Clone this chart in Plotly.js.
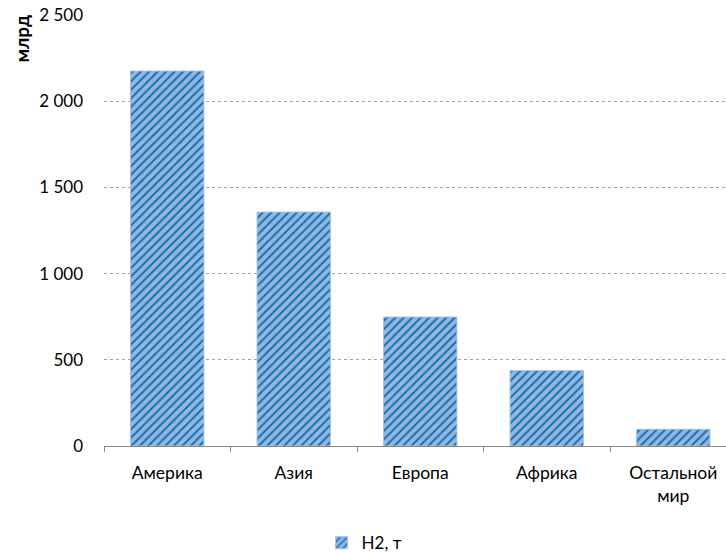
<!DOCTYPE html>
<html>
<head>
<meta charset="utf-8">
<script src="https://cdn.plot.ly/plotly-3.0.1.min.js"></script>
<style>html,body{margin:0;padding:0;background:#fff;}</style>
</head>
<body>
<div id="chart" style="width:726px;height:552px;"></div>
<script>
const categories = ["Америка", "Азия", "Европа", "Африка", "Остальной<br>мир"];
const values = [2175, 1357, 748, 437, 97];
const seriesName = "H2, т";
const yTitle = "млрд";

const FONT = "Lato, 'Open Sans', sans-serif";

const trace = {
  type: "bar",
  x: categories,
  y: values,
  name: seriesName,
  width: 0.58,
  showlegend: true,
  marker: {
    color: "#95b3d7",
    line: {color: "#a9c1de", width: 1},
    pattern: {shape: "/", fgcolor: "#0a72c0", bgcolor: "#98b6d9", size: 6, solidity: 0.32, fillmode: "replace"}
  },
  hoverinfo: "x+y"
};

const layout = {
  width: 726,
  height: 552,
  margin: {l: 104, r: 0, t: 15, b: 106},
  paper_bgcolor: "#ffffff",
  plot_bgcolor: "#ffffff",
  separators: ", ",
  font: {family: FONT, size: 17, color: "#000000"},
  bargap: 0.42,
  xaxis: {
    type: "category",
    range: [-0.5, 4.417],
    showline: true,
    linecolor: "#868686",
    linewidth: 1,
    ticks: "outside",
    tickson: "boundaries",
    ticklen: 5,
    tickcolor: "#868686",
    showgrid: false,
    ticklabelstandoff: 11,
    tickfont: {family: FONT, size: 17.5, color: "#000"},
    fixedrange: true
  },
  yaxis: {
    range: [0, 2500],
    tickvals: [0, 500, 1000, 1500, 2000, 2500],
    separatethousands: true,
    showgrid: true,
    gridcolor: "#a6a6a6",
    griddash: "3px,3px",
    gridwidth: 1,
    zeroline: false,
    showline: false,
    ticks: "",
    ticklabelstandoff: 20,
    tickfont: {family: FONT, size: 17, color: "#000"},
    fixedrange: true
  },
  legend: {
    orientation: "h",
    x: 0.443,
    xanchor: "left",
    xref: "container",
    yref: "container",
    y: 0.016,
    yanchor: "middle",
    font: {family: FONT, size: 17, color: "#000"},
    bgcolor: "rgba(0,0,0,0)"
  },
  annotations: [{
    text: "<b>" + yTitle + "</b>",
    xref: "paper", yref: "paper",
    x: -0.132, y: 0.945,
    xanchor: "center", yanchor: "middle",
    textangle: -90,
    showarrow: false,
    font: {family: FONT, size: 19, color: "#000"}
  }]
};

Plotly.newPlot("chart", [trace], layout, {displayModeBar: false, staticPlot: true});
</script>
</body>
</html>
